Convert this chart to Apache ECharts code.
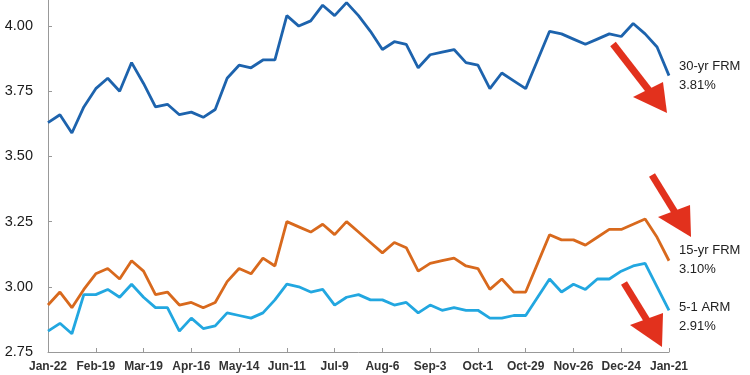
<!DOCTYPE html>
<html>
<head>
<meta charset="utf-8">
<script src="https://cdn.jsdelivr.net/npm/echarts@6/dist/echarts.min.js"></script>
<style>
html,body{margin:0;padding:0;background:#fff;}
#c{width:750px;height:375px;}
</style>
</head>
<body>
<div id="c"></div>
<script>
var weeks = ["Jan-22","Jan-29","Feb-5","Feb-12","Feb-19","Feb-26","Mar-5","Mar-12","Mar-19","Mar-26",
"Apr-2","Apr-9","Apr-16","Apr-23","Apr-30","May-7","May-14","May-21","May-28","Jun-4",
"Jun-11","Jun-18","Jun-25","Jul-2","Jul-9","Jul-16","Jul-23","Jul-30","Aug-6","Aug-13",
"Aug-20","Aug-27","Sep-3","Sep-10","Sep-17","Sep-24","Oct-1","Oct-8","Oct-15","Oct-22",
"Oct-29","Nov-5","Nov-12","Nov-19","Nov-26","Dec-3","Dec-10","Dec-17","Dec-24","Dec-31",
"Jan-7","Jan-14","Jan-21"];

var frm30 = [3.63,3.66,3.59,3.69,3.76,3.80,3.75,3.86,3.78,3.69,
3.70,3.66,3.67,3.65,3.68,3.80,3.85,3.84,3.87,3.87,
4.04,4.00,4.02,4.08,4.04,4.09,4.04,3.98,3.91,3.94,
3.93,3.84,3.89,3.90,3.91,3.86,3.85,3.76,3.82,3.79,
3.76,3.87,3.98,3.97,3.95,3.93,3.95,3.97,3.96,4.01,
3.97,3.92,3.81];

var frm15 = [2.93,2.98,2.92,2.99,3.05,3.07,3.03,3.10,3.06,2.97,
2.98,2.93,2.94,2.92,2.94,3.02,3.07,3.05,3.11,3.08,
3.25,3.23,3.21,3.24,3.20,3.25,3.21,3.17,3.13,3.17,
3.15,3.06,3.09,3.10,3.11,3.08,3.07,2.99,3.03,2.98,
2.98,3.09,3.20,3.18,3.18,3.16,3.19,3.22,3.22,3.24,
3.26,3.19,3.10];

var arm51 = [2.83,2.86,2.82,2.97,2.97,2.99,2.96,3.01,2.96,2.92,
2.92,2.83,2.88,2.84,2.85,2.90,2.89,2.88,2.90,2.95,
3.01,3.00,2.98,2.99,2.93,2.96,2.97,2.95,2.95,2.93,
2.94,2.90,2.93,2.91,2.92,2.91,2.91,2.88,2.88,2.89,
2.89,2.96,3.03,2.98,3.01,2.99,3.03,3.03,3.06,3.08,
3.09,3.00,2.91];

var seriesNames = ["30-yr FRM","15-yr FRM","5-1 ARM"];
var yTicks = [2.75,3.00,3.25,3.50,3.75,4.00];

var chart = echarts.init(document.getElementById('c'), null, {renderer:'canvas'});

function endLbl(offY){
  return {
    show:true,
    distance:10,
    offset:[0,offY],
    fontFamily:'Liberation Sans, Arial, sans-serif',
    fontSize:13,
    lineHeight:19,
    color:'#222',
    align:'left',
    formatter:function(p){ return p.seriesName + '\n' + Number(p.value).toFixed(2) + '%'; }
  };
}

var red = '#e2311d';

chart.setOption({
  animation:false,
  backgroundColor:'#fff',
  grid:{left:48,right:81,top:0,bottom:23,containLabel:false},
  xAxis:{
    type:'category',
    data:weeks,
    boundaryGap:false,
    axisLine:{lineStyle:{color:'#999',width:1}},
    axisTick:{show:true,inside:true,length:4,interval:3,lineStyle:{color:'#999'}},
    axisLabel:{interval:3,fontFamily:'Liberation Sans, Arial, sans-serif',fontSize:12,fontWeight:'bold',color:'#333',margin:9},
    splitLine:{show:false}
  },
  yAxis:{
    type:'value',
    min:yTicks[0],
    max:4.10,
    interval:0.25,
    axisLine:{show:true,lineStyle:{color:'#999',width:1}},
    axisTick:{show:true,inside:true,length:4,lineStyle:{color:'#999'}},
    axisLabel:{
      fontFamily:'Liberation Sans, Arial, sans-serif',fontSize:14.5,color:'#1a1a1a',margin:15,
      showMaxLabel:false,
      formatter:function(v){ return yTicks.some(function(t){return Math.abs(t-v)<1e-6;}) ? v.toFixed(2) : ''; }
    },
    splitLine:{show:false}
  },
  series:[
    {name:seriesNames[0],type:'line',data:frm30,symbol:'none',smooth:false,
     lineStyle:{color:'#1d63ad',width:2.8},itemStyle:{color:'#1d63ad'},endLabel:endLbl(0)},
    {name:seriesNames[1],type:'line',data:frm15,symbol:'none',smooth:false,
     lineStyle:{color:'#d8691d',width:2.8},itemStyle:{color:'#d8691d'},endLabel:endLbl(-1)},
    {name:seriesNames[2],type:'line',data:arm51,symbol:'none',smooth:false,
     lineStyle:{color:'#22a7e0',width:2.8},itemStyle:{color:'#22a7e0'},endLabel:endLbl(7)}
  ],
  graphic:[
    {type:'line',z:100,shape:{x1:613,y1:44,x2:651,y2:93},style:{stroke:red,lineWidth:7}},
    {type:'polygon',z:100,shape:{points:[[633,97],[663,82],[667,113]]},style:{fill:red}},
    {type:'line',z:100,shape:{x1:652,y1:175,x2:676,y2:214},style:{stroke:red,lineWidth:7}},
    {type:'polygon',z:100,shape:{points:[[658,217],[690,205],[691,237]]},style:{fill:red}},
    {type:'line',z:100,shape:{x1:624,y1:283,x2:648,y2:322},style:{stroke:red,lineWidth:7}},
    {type:'polygon',z:100,shape:{points:[[630,325],[663,313],[662,347]]},style:{fill:red}}
  ]
});
</script>
</body>
</html>
